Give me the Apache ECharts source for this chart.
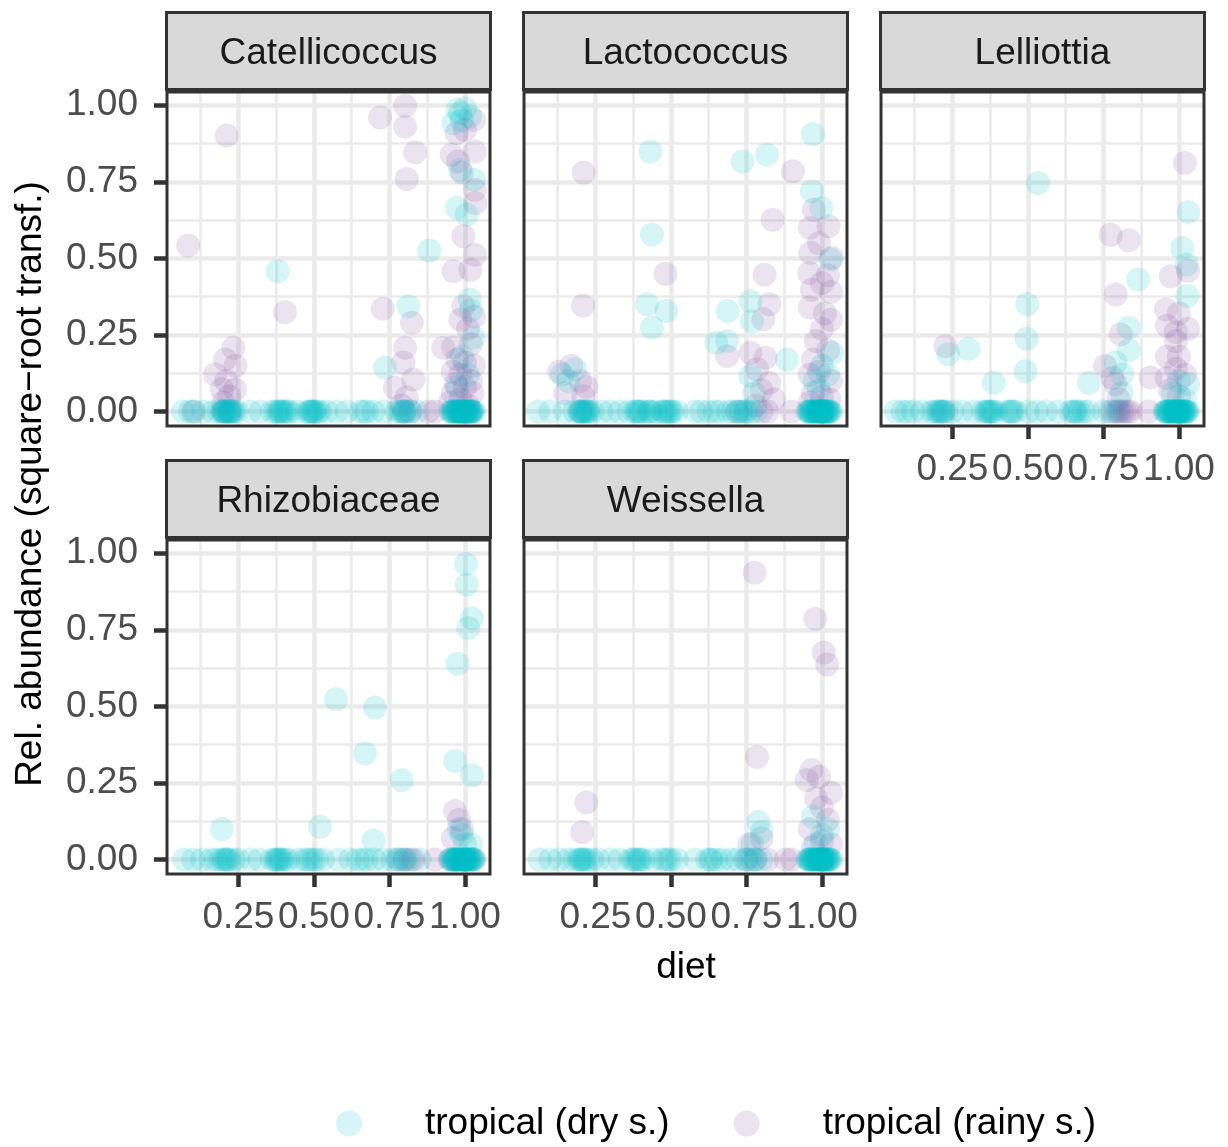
<!DOCTYPE html>
<html>
<head>
<meta charset="utf-8">
<script src="https://cdn.jsdelivr.net/npm/echarts@6/dist/echarts.min.js"></script>
<style>html,body{margin:0;padding:0;background:#fff;}#chart{width:1228px;height:1147px;}</style>
</head>
<body>
<div id="chart"></div>
<script>
// ---------------- data ----------------
const panels = ['Catellicoccus', 'Lactococcus', 'Lelliottia', 'Rhizobiaceae', 'Weissella'];
const seriesNames = ['tropical (dry s.)', 'tropical (rainy s.)'];
const xTicks = [0.25, 0.5, 0.75, 1.0];
const yTicks = [0, 0.25, 0.5, 0.75, 1.0];

// diet values of samples with zero abundance (right-hand cluster shared reading)
const dryZeroRight = [0.952,0.955,0.958,0.961,0.963,0.966,0.968,0.971,0.973,0.976,0.978,0.981,0.983,0.985,0.988,0.99,
  0.992,0.994,0.996,0.998,1.0,1.0,1.002,1.004,1.007,1.009,1.011,1.013,1.016,1.019,1.021,1.024,1.027,1.03];

const catDryZeroX = [0.066,0.09,0.105,0.134,0.167,0.185,0.195,0.2,0.203,0.207,0.21,0.214,0.218,0.222,0.226,0.23,0.235,0.244,
  0.288,0.322,0.36,0.372,0.38,0.385,0.39,0.393,0.4,0.405,0.413,0.421,0.443,0.476,0.484,0.488,0.492,0.497,0.5,0.504,0.513,0.52,
  0.542,0.575,0.609,0.653,0.665,0.675,0.697,0.73,0.774,0.785,0.79,0.796,0.8,0.807,0.818,0.84];
const catRainyZeroX = [0.1,0.2,0.22,0.8,0.82,0.879,0.9,0.98,1.0,1.02];
const catDry = [[0.380,0.458],[0.882,0.526],[0.813,0.344],[0.735,0.143],
  [0.984,0.974],[1.017,0.963],[0.962,0.941],[1.0,0.99],[0.975,0.985],[0.99,0.95],[0.984,0.789],[1.03,0.757],
  [0.973,0.665],[1.006,0.643],[1.016,0.366],[1.02,0.33],[1.028,0.241],[0.99,0.18],[1.01,0.12],[0.975,0.08]];
const catRainy = [[0.211,0.901],[0.084,0.542],[0.404,0.324],[0.802,0.998],[0.719,0.960],[0.802,0.930],[0.835,0.846],
  [0.807,0.759],[0.728,0.336],[0.824,0.290],[0.802,0.208],[0.796,0.160],[0.829,0.105],[0.768,0.078],[0.807,0.046],[0.79,0.02],
  [0.233,0.208],[0.206,0.17],[0.24,0.15],[0.173,0.122],[0.21,0.1],[0.195,0.073],[0.239,0.072],[0.22,0.05],[0.2,0.03],
  [1.03,0.952],[0.973,0.909],[1.0,0.92],[1.033,0.849],[0.956,0.838],[0.977,0.816],[0.99,0.78],[1.033,0.724],[1.034,0.681],
  [0.995,0.572],[1.033,0.512],[0.962,0.458],[1.018,0.463],[0.995,0.344],[1.03,0.31],[0.985,0.30],[1.01,0.27],[0.928,0.208],
  [0.961,0.21],[1.02,0.22],[0.975,0.17],[1.0,0.16],[1.03,0.15],[0.96,0.13],[0.985,0.12],[1.02,0.1],[0.97,0.09],[1.0,0.08],
  [0.96,0.06],[1.025,0.06],[0.985,0.04],[0.95,0.03],[1.01,0.02]];

const lacDryZeroX = [0.06,0.1,0.15,0.18,0.195,0.2,0.205,0.208,0.212,0.216,0.22,0.224,0.228,0.24,0.27,0.3,0.33,0.36,0.378,
  0.385,0.39,0.395,0.4,0.41,0.425,0.43,0.435,0.45,0.47,0.475,0.48,0.487,0.493,0.5,0.505,0.52,0.58,0.6,0.625,0.645,0.66,
  0.69,0.705,0.72,0.73,0.735,0.745,0.75,0.765,0.78];
const lacRainyZeroX = [0.2,0.72,0.8,0.82,0.9,1.0];
const lacDry = [[0.432,0.849],[0.437,0.578],[0.421,0.350],[0.485,0.328],[0.437,0.274],[0.737,0.816],[0.818,0.838],
  [0.970,0.905],[0.967,0.719],[0.998,0.664],[1.028,0.496],[0.688,0.328],[0.763,0.360],[0.768,0.295],[0.686,0.230],
  [0.650,0.225],[0.884,0.170],[0.763,0.116],[1.033,0.192],[1.0,0.15],[0.975,0.10],[1.02,0.12],[0.99,0.07],
  [0.183,0.138],[0.14,0.12],[0.16,0.1],[0.775,0.06]];
const lacRainy = [[0.211,0.780],[0.209,0.346],[0.482,0.450],[0.837,0.626],[0.904,0.784],[0.810,0.447],[0.826,0.350],
  [0.806,0.301],[0.686,0.181],[0.763,0.192],[0.813,0.176],[0.785,0.138],[0.825,0.094],[0.841,0.040],[0.8,0.07],[0.78,0.02],
  [0.13,0.13],[0.17,0.15],[0.2,0.1],[0.22,0.08],[0.21,0.05],[0.15,0.06],
  [0.973,0.659],[1.022,0.605],[0.962,0.518],[1.033,0.502],[0.958,0.452],[1.02,0.445],[0.967,0.398],[1.03,0.39],
  [0.96,0.34],[1.01,0.32],[1.03,0.30],[1.0,0.27],[0.97,0.17],[0.96,0.6],[0.99,0.55],[1.0,0.42],[0.98,0.23],[1.02,0.2],
  [0.96,0.12],[0.99,0.13],[1.03,0.1],[0.97,0.06],[1.0,0.05],[1.025,0.04],[0.96,0.03]];

const lelDryZeroX = [0.062,0.085,0.1,0.12,0.15,0.18,0.19,0.2,0.205,0.21,0.215,0.22,0.23,0.25,0.28,0.32,0.35,0.36,0.365,
  0.37,0.375,0.38,0.385,0.395,0.43,0.44,0.445,0.45,0.46,0.5,0.53,0.56,0.6,0.64,0.65,0.655,0.66,0.67,0.685,0.7,0.75,0.77,0.8];
const lelRainyZeroX = [0.22,0.78,0.79,0.8,0.81,0.82,0.83,0.84,0.9,1.0];
const lelDry = [[0.533,0.746],[0.498,0.350],[0.496,0.238],[0.492,0.132],[0.387,0.094],[0.303,0.205],[0.236,0.187],
  [0.702,0.094],[0.865,0.431],[0.834,0.274],[0.834,0.20],[0.812,0.121],[0.81,0.06],[1.031,0.651],[1.011,0.534],
  [1.026,0.48],[1.028,0.377],[1.03,0.09],[1.0,0.1],[0.98,0.06],[1.02,0.04],[0.79,0.16]];
const lelRainy = [[0.227,0.214],[0.774,0.577],[0.834,0.559],[0.79,0.382],[0.807,0.252],[0.755,0.149],[0.79,0.09],
  [0.906,0.111],[1.02,0.811],[0.973,0.442],[1.03,0.46],[0.957,0.333],[1.0,0.32],[0.96,0.28],[0.99,0.26],[1.03,0.27],
  [0.99,0.23],[0.96,0.18],[1.0,0.18],[0.96,0.11],[0.99,0.14],[1.02,0.12],[0.97,0.07],[1.0,0.05],[0.8,0.04],[0.78,0.11]];

const rhiDryZeroX = [0.07,0.1,0.13,0.16,0.175,0.19,0.2,0.205,0.21,0.215,0.22,0.235,0.25,0.29,0.32,0.36,0.37,0.375,0.38,
  0.385,0.39,0.395,0.405,0.415,0.45,0.47,0.48,0.49,0.5,0.51,0.53,0.58,0.62,0.645,0.66,0.675,0.7,0.73,0.76,0.775,0.79,
  0.8,0.81,0.85];
const rhiRainyZeroX = [0.78,0.8,0.82,0.83,0.9,0.95,0.97,1.0,1.03];
const rhiDry = [[1.004,0.965],[1.006,0.897],[1.023,0.788],[1.011,0.756],[0.976,0.639],[0.573,0.523],[0.702,0.496],
  [0.669,0.346],[0.791,0.259],[0.967,0.322],[1.023,0.275],[0.195,0.100],[0.520,0.107],[0.697,0.062],[1.0,0.05],
  [0.98,0.10],[1.02,0.05],[0.99,0.08]];
const rhiRainy = [[0.967,0.159],[0.98,0.13],[0.96,0.07],[0.99,0.1]];

const weiDryZeroX = [0.065,0.1,0.13,0.16,0.18,0.195,0.2,0.205,0.21,0.215,0.225,0.24,0.26,0.3,0.33,0.365,0.375,0.38,0.39,
  0.395,0.4,0.41,0.44,0.47,0.48,0.49,0.5,0.52,0.58,0.62,0.63,0.635,0.65,0.67,0.7,0.72,0.745,0.76,0.77,0.78,0.8];
const weiRainyZeroX = [0.75,0.78,0.82,0.88,0.9,1.0];
const weiDry = [[0.79,0.123],[0.8,0.09],[0.97,0.14],[1.0,0.08],[0.98,0.05],[1.02,0.1],[0.77,0.05]];
const weiRainy = [[0.777,0.936],[0.978,0.786],[1.006,0.676],[1.017,0.637],[0.785,0.335],[0.220,0.186],[0.206,0.089],
  [0.965,0.292],[0.95,0.26],[0.99,0.27],[1.03,0.218],[1.0,0.17],[0.96,0.1],[1.02,0.13],[0.98,0.2],[1.0,0.06],
  [0.97,0.04],[0.76,0.05],[0.8,0.07],[1.03,0.05]];

// ---------------- layout / style ----------------
const FONT = '"Liberation Sans", Arial, sans-serif';
const DRY = 'rgba(0,191,196,0.2)';
const RAINY = 'rgba(128,80,160,0.2)';
const GRIDS = [
  {left: 167, top: 92}, {left: 524, top: 92}, {left: 881, top: 92},
  {left: 167, top: 540}, {left: 524, top: 540}
];
const GW = 323, GH = 334;
const showX = [false, false, true, true, true];
const showY = [true, false, false, true, false];

const dryData = [
  catDryZeroX.concat(dryZeroRight).map(x => [x, 0]).concat(catDry),
  lacDryZeroX.concat(dryZeroRight).map(x => [x, 0]).concat(lacDry),
  lelDryZeroX.concat(dryZeroRight).map(x => [x, 0]).concat(lelDry),
  rhiDryZeroX.concat(dryZeroRight).map(x => [x, 0]).concat(rhiDry),
  weiDryZeroX.concat(dryZeroRight).map(x => [x, 0]).concat(weiDry)
];
const rainyData = [
  catRainyZeroX.map(x => [x, 0]).concat(catRainy),
  lacRainyZeroX.map(x => [x, 0]).concat(lacRainy),
  lelRainyZeroX.map(x => [x, 0]).concat(lelRainy),
  rhiRainyZeroX.map(x => [x, 0]).concat(rhiRainy),
  weiRainyZeroX.map(x => [x, 0]).concat(weiRainy)
];

const grid = [], xAxis = [], yAxis = [], series = [], graphic = [];
GRIDS.forEach((g, i) => {
  grid.push({left: g.left, top: g.top, width: GW, height: GH, show: true, backgroundColor: '#fff', borderWidth: 0});
  const common = {
    type: 'value', gridIndex: i,
    axisLine: {show: false, onZero: false},
    splitLine: {show: true, lineStyle: {color: '#EBEBEB', width: 4.5}},
    minorTick: {show: false, splitNumber: 2},
    minorSplitLine: {show: true, lineStyle: {color: '#EBEBEB', width: 2.6}}
  };
  xAxis.push(Object.assign({}, common, {
    position: 'bottom',
    min: 0.0136, max: 1.083, minInterval: 0.25, maxInterval: 0.25,
    axisTick: {show: showX[i], customValues: xTicks, length: 13, lineStyle: {color: '#333333', width: 4.5}},
    axisLabel: {show: showX[i], customValues: xTicks, formatter: v => v.toFixed(2), margin: 25,
      fontSize: 37, color: '#4D4D4D', fontFamily: FONT}
  }));
  yAxis.push(Object.assign({}, common, {
    position: 'left',
    min: -0.047, max: 1.043, minInterval: 0.25, maxInterval: 0.25,
    axisTick: {show: showY[i], customValues: yTicks, length: 13, lineStyle: {color: '#333333', width: 4.5}},
    axisLabel: {show: showY[i], customValues: yTicks, formatter: v => v.toFixed(2), margin: 29,
      fontSize: 37, color: '#4D4D4D', fontFamily: FONT}
  }));
  series.push({
    type: 'scatter', name: seriesNames[1], xAxisIndex: i, yAxisIndex: i,
    data: rainyData[i], symbolSize: 24, itemStyle: {color: RAINY}, silent: true, clip: true
  });
  series.push({
    type: 'scatter', name: seriesNames[0], xAxisIndex: i, yAxisIndex: i,
    data: dryData[i], symbolSize: 24, itemStyle: {color: DRY}, silent: true, clip: true
  });
  // panel border on top
  graphic.push({type: 'rect', z: 100, silent: true,
    shape: {x: g.left, y: g.top, width: GW, height: GH},
    style: {fill: 'none', stroke: '#333333', lineWidth: 3}});
  // strip
  const sy = g.top - 80;
  graphic.push({type: 'rect', z: 100, silent: true,
    shape: {x: g.left - 0.5, y: sy + 0.5, width: GW + 1, height: 77},
    style: {fill: '#D9D9D9', stroke: '#333333', lineWidth: 3}});
  graphic.push({type: 'text', z: 101, silent: true, x: g.left + GW / 2, y: sy + 42,
    style: {text: panels[i], font: '37px ' + FONT, fill: '#1A1A1A', textAlign: 'center', textVerticalAlign: 'middle'}});
});

graphic.push({type: 'text', silent: true, x: 31, y: 484, rotation: Math.PI / 2,
  style: {text: 'Rel. abundance (square\u2212root transf.)', font: '37px ' + FONT, fill: '#000',
    textAlign: 'center', textVerticalAlign: 'middle'}});
graphic.push({type: 'text', silent: true, x: 686, y: 968,
  style: {text: 'diet', font: '37px ' + FONT, fill: '#000', textAlign: 'center', textVerticalAlign: 'middle'}});

const chart = echarts.init(document.getElementById('chart'), null, {renderer: 'canvas'});
chart.setOption({
  animation: false,
  backgroundColor: '#fff',
  grid, xAxis, yAxis, series, graphic,
  legend: {
    data: seriesNames, left: 331, top: 1100, icon: 'circle', itemWidth: 26, itemHeight: 26,
    itemGap: 64, selectedMode: false,
    textStyle: {fontSize: 37, color: '#000', fontFamily: FONT, padding: [0, 0, 0, 58]}
  }
});
</script>
</body>
</html>
